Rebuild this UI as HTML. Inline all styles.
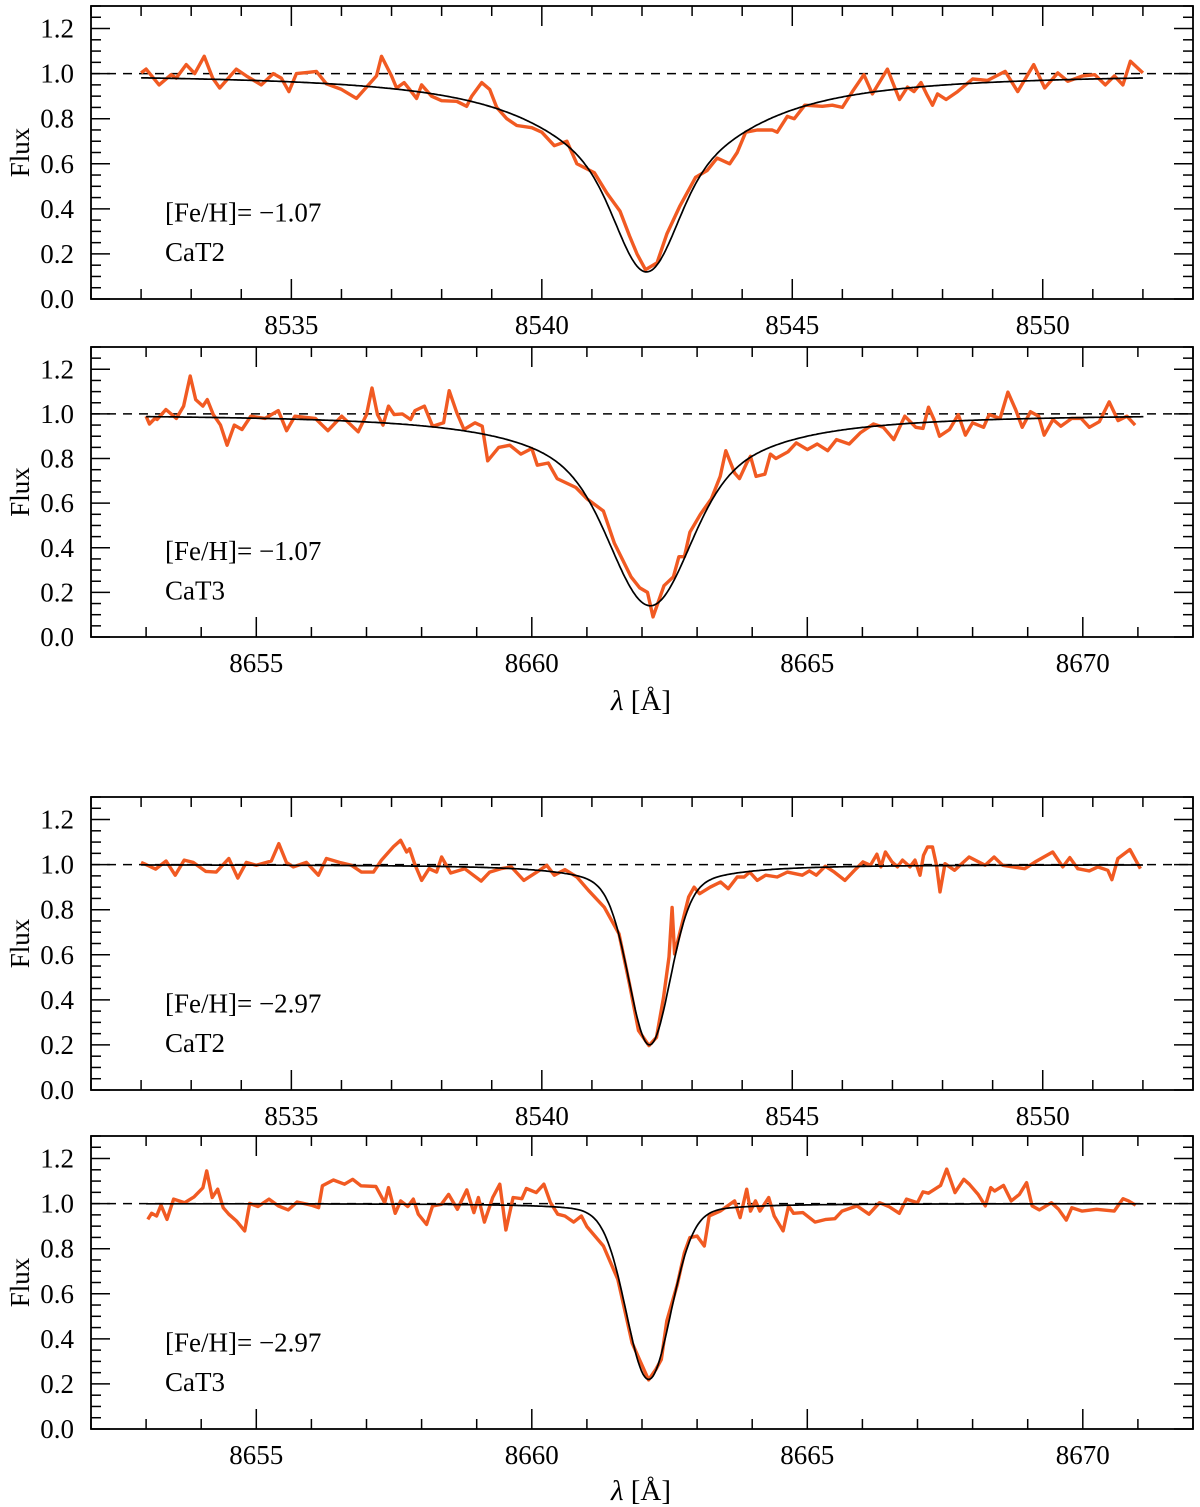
<!DOCTYPE html>
<html><head><meta charset="utf-8">
<style>
html,body{margin:0;padding:0;background:#fff;}
svg{display:block;font-family:"Liberation Serif","DejaVu Serif",serif;}
</style></head>
<body>
<svg id="chart" width="1200" height="1507" viewBox="0 0 1200 1507" xmlns="http://www.w3.org/2000/svg"></svg>
<script>
// ---- data ----
const p1Wave=[8532.0,8532.1,8532.36,8532.6,8532.7,8532.9,8533.07,8533.26,8533.43,8533.57,8533.9,8534.1,8534.4,8534.64,8534.8,8534.95,8535.1,8535.35,8535.5,8535.7,8536.0,8536.3,8536.5,8536.7,8536.8,8537.0,8537.1,8537.25,8537.36,8537.5,8537.6,8537.8,8538.0,8538.3,8538.5,8538.6,8538.8,8538.96,8539.1,8539.3,8539.5,8539.8,8540.0,8540.25,8540.5,8540.7,8541.05,8541.3,8541.56,8541.75,8541.9,8542.07,8542.3,8542.5,8542.75,8543.07,8543.3,8543.5,8543.75,8543.9,8544.07,8544.3,8544.6,8544.7,8544.9,8545.04,8545.25,8545.6,8545.8,8546.0,8546.2,8546.43,8546.6,8546.9,8547.14,8547.3,8547.43,8547.57,8547.68,8547.8,8547.9,8548.07,8548.3,8548.6,8548.9,8549.25,8549.5,8549.82,8550.04,8550.3,8550.5,8550.8,8551.04,8551.25,8551.43,8551.6,8551.75,8552.0];
const p1Flux=[1.003,1.02,0.95,0.995,0.98,1.04,1.0,1.077,0.98,0.936,1.02,0.99,0.95,1.0,0.98,0.92,1.0,1.006,1.01,0.955,0.93,0.89,0.94,0.99,1.077,0.99,0.936,0.96,0.93,0.89,0.95,0.90,0.88,0.877,0.855,0.90,0.96,0.93,0.85,0.80,0.77,0.76,0.74,0.68,0.70,0.60,0.56,0.47,0.39,0.28,0.20,0.13,0.16,0.29,0.41,0.54,0.57,0.625,0.60,0.65,0.74,0.75,0.75,0.74,0.81,0.80,0.86,0.855,0.86,0.85,0.92,0.995,0.91,1.02,0.885,0.94,0.92,0.96,0.91,0.86,0.91,0.885,0.92,0.976,0.97,1.01,0.92,1.04,0.936,1.003,0.966,0.99,0.995,0.95,0.99,0.95,1.055,1.003];
const p2Wave=[8653.0,8653.06,8653.16,8653.2,8653.36,8653.55,8653.68,8653.8,8653.9,8654.03,8654.11,8654.22,8654.35,8654.47,8654.6,8654.74,8654.9,8655.16,8655.4,8655.55,8655.7,8656.07,8656.3,8656.55,8656.85,8657.0,8657.1,8657.2,8657.3,8657.4,8657.5,8657.65,8657.8,8657.88,8658.05,8658.2,8658.4,8658.5,8658.64,8658.77,8658.97,8659.1,8659.2,8659.4,8659.6,8659.8,8660.0,8660.1,8660.3,8660.46,8660.8,8661.0,8661.3,8661.5,8661.8,8661.96,8662.1,8662.2,8662.3,8662.4,8662.57,8662.67,8662.77,8662.87,8663.06,8663.26,8663.42,8663.52,8663.68,8663.77,8663.9,8663.97,8664.07,8664.23,8664.33,8664.43,8664.65,8664.8,8665.0,8665.18,8665.37,8665.53,8665.76,8665.96,8666.2,8666.38,8666.57,8666.77,8666.97,8667.1,8667.2,8667.3,8667.4,8667.58,8667.74,8667.87,8668.0,8668.2,8668.3,8668.5,8668.64,8668.78,8668.9,8669.05,8669.2,8669.3,8669.46,8669.6,8669.8,8669.97,8670.12,8670.3,8670.48,8670.64,8670.8,8670.95];
const p2Flux=[0.99,0.955,0.98,0.975,1.02,0.98,1.035,1.17,1.064,1.035,1.064,0.997,0.95,0.86,0.95,0.93,0.99,0.98,1.015,0.925,0.99,0.98,0.925,0.99,0.92,0.997,1.116,0.997,0.95,1.035,0.997,1.0,0.975,1.015,1.035,0.945,0.96,1.104,1.004,0.93,0.96,0.945,0.79,0.85,0.86,0.82,0.845,0.77,0.78,0.71,0.67,0.62,0.565,0.42,0.27,0.22,0.20,0.09,0.16,0.23,0.27,0.36,0.36,0.47,0.55,0.62,0.72,0.835,0.735,0.71,0.78,0.81,0.72,0.73,0.82,0.80,0.83,0.87,0.84,0.865,0.835,0.885,0.865,0.915,0.955,0.94,0.885,0.99,0.94,0.935,1.03,0.975,0.90,0.93,0.997,0.905,0.96,0.94,0.997,0.98,1.098,1.02,0.94,1.01,0.99,0.905,0.975,0.945,0.98,0.98,0.94,0.965,1.054,0.97,0.99,0.95];
const p3Wave=[8532.0,8532.1,8532.29,8532.5,8532.68,8532.86,8533.04,8533.29,8533.5,8533.75,8533.93,8534.1,8534.3,8534.6,8534.75,8534.9,8535.04,8535.3,8535.54,8535.7,8535.96,8536.2,8536.4,8536.64,8536.8,8537.04,8537.18,8537.3,8537.36,8537.46,8537.6,8537.75,8537.9,8538.0,8538.18,8538.46,8538.79,8538.96,8539.18,8539.39,8539.64,8539.9,8540.1,8540.25,8540.46,8540.7,8540.93,8541.25,8541.54,8541.75,8541.93,8542.14,8542.29,8542.43,8542.54,8542.6,8542.65,8542.8,8542.93,8543.04,8543.15,8543.36,8543.57,8543.72,8543.9,8544.04,8544.15,8544.3,8544.47,8544.7,8544.9,8545.2,8545.34,8545.48,8545.66,8545.84,8546.05,8546.23,8546.41,8546.56,8546.69,8546.77,8546.86,8546.99,8547.1,8547.2,8547.35,8547.45,8547.55,8547.62,8547.7,8547.8,8547.88,8547.95,8548.05,8548.24,8548.53,8548.85,8549.03,8549.2,8549.64,8549.85,8550.2,8550.4,8550.54,8550.7,8550.93,8551.1,8551.3,8551.38,8551.5,8551.74,8551.95];
const p3Flux=[1.01,1.0,0.98,1.016,0.953,1.02,1.01,0.97,0.967,1.027,0.94,1.01,0.997,1.016,1.093,1.01,0.99,1.01,0.953,1.027,1.01,0.997,0.967,0.967,1.02,1.08,1.108,1.056,1.07,1.004,0.93,0.982,0.967,1.034,0.963,0.982,0.927,0.967,0.982,0.99,0.93,0.967,0.997,0.953,0.978,0.945,0.886,0.81,0.693,0.47,0.264,0.197,0.234,0.41,0.59,0.81,0.604,0.738,0.856,0.90,0.871,0.90,0.923,0.893,0.945,0.945,0.967,0.93,0.953,0.945,0.967,0.953,0.972,0.953,0.993,0.967,0.93,0.972,1.012,0.997,1.046,0.99,1.056,1.012,0.99,1.02,0.99,1.02,0.953,1.041,1.078,1.078,0.997,0.879,1.004,0.975,1.034,0.997,1.034,0.997,0.982,1.012,1.056,0.99,1.031,0.982,0.972,0.99,0.975,0.933,1.027,1.067,0.982];
const p4Wave=[8653.03,8653.1,8653.19,8653.27,8653.38,8653.5,8653.7,8653.87,8654.03,8654.1,8654.2,8654.3,8654.4,8654.5,8654.64,8654.79,8654.88,8655.03,8655.23,8655.4,8655.58,8655.74,8656.0,8656.13,8656.2,8656.4,8656.6,8656.75,8656.9,8657.17,8657.33,8657.4,8657.52,8657.62,8657.75,8657.85,8657.94,8658.09,8658.2,8658.36,8658.49,8658.65,8658.82,8658.95,8659.03,8659.14,8659.29,8659.42,8659.53,8659.66,8659.82,8659.9,8660.08,8660.22,8660.34,8660.47,8660.6,8660.76,8660.9,8661.0,8661.3,8661.56,8661.82,8661.97,8662.12,8662.25,8662.35,8662.45,8662.64,8662.77,8662.87,8663.0,8663.13,8663.22,8663.42,8663.68,8663.78,8663.9,8663.97,8664.06,8664.14,8664.3,8664.4,8664.56,8664.66,8664.75,8664.92,8665.14,8665.34,8665.5,8665.63,8665.9,8666.12,8666.31,8666.48,8666.67,8666.8,8667.0,8667.1,8667.2,8667.42,8667.53,8667.68,8667.84,8667.94,8668.1,8668.23,8668.33,8668.4,8668.56,8668.7,8668.85,8668.98,8669.08,8669.21,8669.43,8669.56,8669.7,8669.8,8669.99,8670.25,8670.57,8670.73,8670.83,8670.96];
const p4Flux=[0.93,0.957,0.945,0.993,0.93,1.02,1.004,1.03,1.07,1.145,1.027,1.064,0.982,0.953,0.923,0.879,1.001,0.987,1.02,0.99,0.972,1.007,0.993,0.982,1.079,1.105,1.086,1.108,1.079,1.076,1.004,1.071,0.957,1.012,0.987,1.02,0.953,0.908,0.99,0.997,1.041,0.975,1.061,0.96,1.027,0.918,1.027,1.086,0.883,1.027,1.022,1.067,1.049,1.086,1.004,0.953,0.945,0.918,0.945,0.898,0.812,0.664,0.382,0.30,0.218,0.264,0.308,0.479,0.641,0.782,0.849,0.856,0.812,0.945,0.967,1.012,0.938,1.064,0.967,1.012,0.967,1.027,0.945,0.879,0.99,0.957,0.96,0.918,0.93,0.933,0.967,0.99,0.953,1.004,0.987,0.957,1.02,1.004,1.052,1.046,1.081,1.153,1.049,1.108,1.086,1.041,0.99,1.071,1.056,1.081,1.012,1.041,1.093,0.99,0.972,1.004,0.975,0.927,0.982,0.967,0.975,0.967,1.022,1.012,0.993];
// model line parameters per panel: center, gaussian depth, gaussian sigma, lorentz depth, lorentz hwhm
const modelCenter=[8542.09,8662.15,8542.15,8662.12];
const modelGaussDepth=[0.36,0.40,0.65,0.70];
const modelGaussSigma=[0.55,0.65,0.4,0.4];
const modelLorDepth=[0.52,0.46,0.15,0.08];
const modelLorWidth=[1.95,1.5,1.0,0.8];
const panelFeH=["[Fe/H]= \u22121.07","[Fe/H]= \u22121.07","[Fe/H]= \u22122.97","[Fe/H]= \u22122.97"];
const panelLine=["CaT2","CaT3","CaT2","CaT3"];
const xTicks1=[8535,8540,8545,8550];
const xTicks2=[8655,8660,8665,8670];
const yTicks=[0.0,0.2,0.4,0.6,0.8,1.0,1.2];

const NS="http://www.w3.org/2000/svg";
const svg=document.getElementById('chart');
function mk(tag,attrs,parent){const e=document.createElementNS(NS,tag);for(const k in attrs)e.setAttribute(k,attrs[k]);(parent||svg).appendChild(e);return e;}

const panels=[
 {top:6,bot:299,x0:8531,x1:8553,wave:p1Wave,flux:p1Flux,ticks:xTicks1,range:[8532,8552]},
 {top:347,bot:637,x0:8652,x1:8672,wave:p2Wave,flux:p2Flux,ticks:xTicks2,range:[8653,8671.1]},
 {top:797,bot:1090,x0:8531,x1:8553,wave:p3Wave,flux:p3Flux,ticks:xTicks1,range:[8532,8552]},
 {top:1136,bot:1429,x0:8652,x1:8672,wave:p4Wave,flux:p4Flux,ticks:xTicks2,range:[8653,8671.1]}
];
const L=91,R=1193,FS=27;
panels.forEach((p,i)=>{
  const g=mk('g',{});
  
  
  const xs=v=>L+(v-p.x0)/(p.x1-p.x0)*(R-L);
  const ys=v=>p.bot-v/1.3*(p.bot-p.top);
  const tg=mk('g',{stroke:'#000','stroke-width':1.5},g);
  
  
  for(let v=0;v<=1.3001;v+=0.05){
    const major=Math.abs(v/0.2-Math.round(v/0.2))<1e-6;
    const len=major?19:10, y=ys(v);
    mk('line',{x1:L,x2:L+len,y1:y,y2:y},tg);
    mk('line',{x1:R,x2:R-len,y1:y,y2:y},tg);
  }
  for(let v=Math.ceil(p.x0);v<=p.x1;v++){
    const major=v%5===0, len=major?20:10, x=xs(v);
    mk('line',{x1:x,x2:x,y1:p.bot,y2:p.bot-len},tg);
    mk('line',{x1:x,x2:x,y1:p.top,y2:p.top+len},tg);
  }
  yTicks.forEach(v=>{
    const t=mk('text',{x:74,y:ys(v)+9,'text-anchor':'end','font-size':FS},g);
    
    
    t.textContent=v.toFixed(1);
  });
  p.ticks.forEach(v=>{
    const t=mk('text',{x:xs(v),y:p.bot+35,'text-anchor':'middle','font-size':FS},g);
    
    
    t.textContent=v;
  });
  const yl=mk('text',{x:0,y:0,'text-anchor':'middle','font-size':FS,transform:`translate(29,${(p.top+p.bot)/2}) rotate(-90)`},g);
  
  
  yl.textContent='Flux';
  const dl=mk('line',{x1:L,x2:R,y1:ys(1),y2:ys(1),stroke:'#000','stroke-width':1.5,'stroke-dasharray':'9,7'},g);
  
  
  let d='';
  p.wave.forEach((w,k)=>{d+=(k?'L':'M')+xs(w).toFixed(1)+','+ys(p.flux[k]).toFixed(1);});
  const sp=mk('path',{d:d,fill:'none',stroke:'#f15a22','stroke-width':3.4,'stroke-linejoin':'round'},g);
  
  
  let md='';
  for(let k=0;k<=600;k++){
    const w=p.range[0]+(p.range[1]-p.range[0])*k/600, dx=w-modelCenter[i];
    const f=1-modelGaussDepth[i]*Math.exp(-dx*dx/(2*modelGaussSigma[i]**2))-modelLorDepth[i]/(1+(dx/modelLorWidth[i])**2);
    md+=(k?'L':'M')+xs(w).toFixed(1)+','+ys(f).toFixed(1);
  }
  const mp=mk('path',{d:md,fill:'none',stroke:'#000','stroke-width':1.7},g);
  
  
  const fr=mk('rect',{x:L,y:p.top,width:R-L,height:p.bot-p.top,fill:'none',stroke:'#000','stroke-width':1.8},g);
  
  
  const a1=mk('text',{x:165,y:p.top+(p.bot-p.top)*0.735,'font-size':FS},g);
  
  
  a1.textContent=panelFeH[i];
  const a2=mk('text',{x:165,y:p.top+(p.bot-p.top)*0.87,'font-size':FS},g);
  
  
  a2.textContent=panelLine[i];
});
[[641,710],[641,1500]].forEach(([x,y])=>{
  const t=mk('text',{x:x,y:y,'text-anchor':'middle','font-size':29});
  
  
  t.innerHTML='<tspan font-style="italic">\u03bb</tspan> [\u00c5]';
});
</script>
</body></html>
